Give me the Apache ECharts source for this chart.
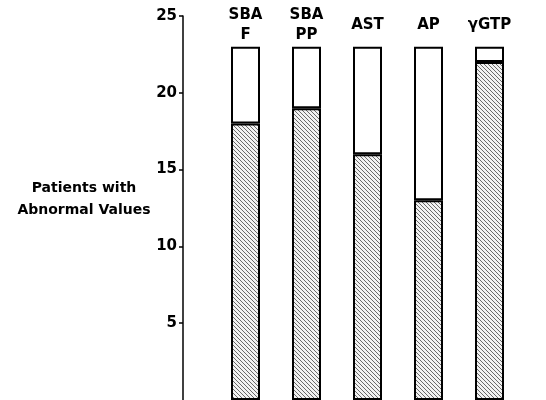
<!DOCTYPE html>
<html>
<head>
<meta charset="utf-8">
<script src="https://cdn.jsdelivr.net/npm/echarts@6/dist/echarts.min.js"></script>
<style>html,body{margin:0;padding:0;background:#fff;}#c{width:546px;height:400px;}</style>
</head>
<body>
<div id="c"></div>
<script>
var categories = ['SBA\nF', 'SBA\nPP', 'AST', 'AP', 'γGTP'];
var abnormal = [18, 19, 16, 13, 22];
var normal = [5, 4, 7, 10, 1];
var yTicks = [0, 5, 10, 15, 20, 25];
var yTitle = 'Patients with\nAbnormal Values';

function hatch() {
  var c = document.createElement('canvas');
  c.width = 4; c.height = 4;
  var g = c.getContext('2d');
  g.fillStyle = '#f2f2f2';
  g.fillRect(0, 0, 4, 4);
  g.fillStyle = '#6a6a6a';
  for (var i = 0; i < 4; i++) g.fillRect(i, i, 1, 1);
  return c;
}

var font = 'DejaVu Sans';
var chart = echarts.init(document.getElementById('c'), null, {renderer: 'canvas'});
chart.setOption({
  animation: false,
  backgroundColor: '#fff',
  grid: {left: 215, right: 26, top: 16, bottom: 0, containLabel: false},
  graphic: [{
    type: 'text', left: 84 - 70, top: 177,
    style: {
      text: yTitle, width: 140, align: 'center', textAlign: 'center', x: 70, y: 0,
      fontFamily: font, fontSize: 14, fontWeight: 'bold', fill: '#000', lineHeight: 22
    }
  }],
  xAxis: {
    type: 'category',
    data: categories,
    position: 'top',
    axisLine: {show: false},
    axisTick: {show: false},
    axisLabel: {
      interval: 0, verticalAlign: 'middle', margin: -9,
      fontFamily: font, fontSize: 15, fontWeight: 'bold', lineHeight: 20, color: '#000'
    }
  },
  yAxis: {
    type: 'value',
    min: yTicks[0], max: yTicks[yTicks.length - 1], interval: 5,
    offset: 32,
    axisLine: {show: true, lineStyle: {color: '#000', width: 1.5}},
    axisTick: {show: true, length: 4, lineStyle: {color: '#000', width: 1.5}},
    splitLine: {show: false},
    axisLabel: {
      showMinLabel: false, margin: 6,
      fontFamily: font, fontSize: 15, fontWeight: 'bold', color: '#000'
    }
  },
  series: [
    {
      name: 'Abnormal', type: 'bar', stack: 'p', barWidth: 29,
      data: abnormal,
      itemStyle: {color: {image: hatch(), repeat: 'repeat'}, borderColor: '#000', borderWidth: 2}
    },
    {
      name: 'Normal', type: 'bar', stack: 'p', barWidth: 29,
      data: normal,
      itemStyle: {color: '#fff', borderColor: '#000', borderWidth: 2}
    }
  ]
});
</script>
</body>
</html>
